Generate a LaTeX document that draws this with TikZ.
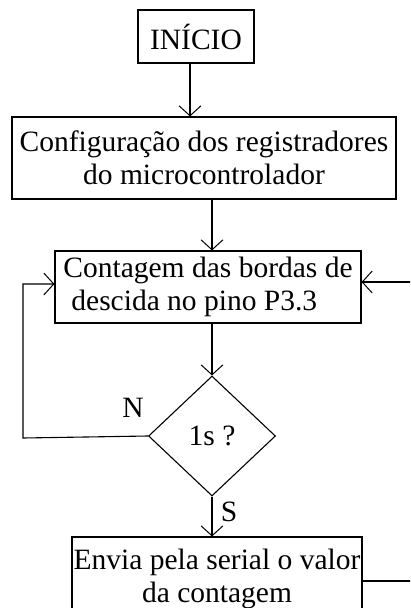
\documentclass[tikz,border=0pt]{standalone}
\usepackage{fontspec}
\setmainfont{Liberation Serif}
\usetikzlibrary{arrows.meta,shapes.geometric}
\begin{document}
\begin{tikzpicture}[x=1pt,y=-1pt,
  every node/.style={font=\fontsize{29.5}{33}\selectfont},
  boxstyle/.style={draw, line width=1.1pt, inner sep=0pt, align=center},
  decstyle/.style={draw, diamond, line width=1.1pt, inner sep=0pt, minimum width=127pt, minimum height=120pt},
  lbl/.style={inner sep=0pt},
  line/.style={line width=1.1pt},
  arr/.style={line width=1.1pt, -{Straight Barb[length=10pt,width=22pt,line width=1pt]}}]
\clip (0,0) rectangle (410,608);
\node[boxstyle, minimum width=116pt, minimum height=53pt] (inicio) at (196,36.5) {INÍCIO};
\node[boxstyle, minimum width=384pt, minimum height=82pt] (config) at (204,158) {Configuração dos registradores\\do microcontrolador};
\node[boxstyle, minimum width=306pt, minimum height=72pt, align=left] (cont) at (208,287) {Contagem das bordas de\\\hspace{8pt}descida no pino P3.3};
\node[decstyle] (dec) at (212,436) {1s ?};
\node[boxstyle, minimum width=290pt, minimum height=84pt] (envia) at (217,579) {Envia pela serial o valor\\da contagem};
\node[lbl] (nlab) at (133,408) {N};
\node[lbl] (slab) at (229,512) {S};
\coordinate (leftx) at (23,438);
\coordinate (rightx) at (440,577);
\draw[arr] ([xshift=-6pt]inicio.south) -- ([xshift=-6pt]inicio.south |- config.north);
\draw[arr] ([xshift=8pt]config.south) -- ([xshift=8pt]config.south |- cont.north);
\draw[arr] (cont.south -| dec.north) -- (dec.north);
\draw[arr] (dec.south) -- (dec.south |- envia.north);
\draw[arr] (dec.west) -- (leftx) |- ([yshift=3pt]cont.west);
\draw[arr] ([yshift=-2pt]envia.east) -- ([yshift=-2pt]envia.east -| rightx) |- ([yshift=5pt]cont.east);
\end{tikzpicture}
\end{document}
